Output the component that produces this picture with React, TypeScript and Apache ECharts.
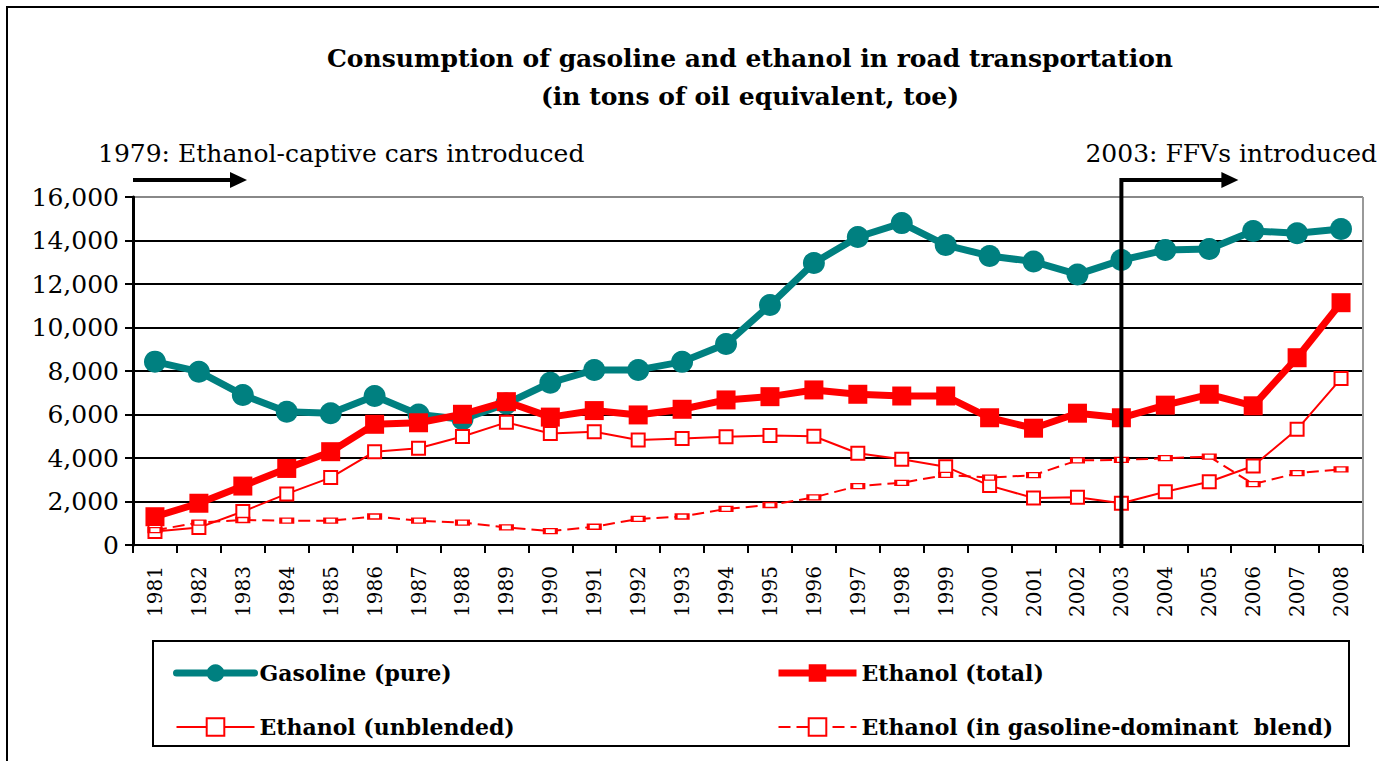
import React, { useEffect, useRef } from "react";
import * as echarts from "echarts";

const years = ["1981","1982","1983","1984","1985","1986","1987","1988","1989","1990","1991","1992","1993","1994","1995","1996","1997","1998","1999","2000","2001","2002","2003","2004","2005","2006","2007","2008"];

const gasolinePure = [8430, 7970, 6900, 6130, 6060, 6850, 6000, 5780, 6500, 7460, 8050, 8050, 8420, 9240, 11030, 12970, 14160, 14800, 13790, 13290, 13030, 12440, 13100, 13560, 13610, 14440, 14330, 14530];
const ethanolTotal = [1300, 1920, 2710, 3520, 4290, 5550, 5620, 6010, 6590, 5880, 6180, 5980, 6240, 6670, 6820, 7130, 6930, 6850, 6850, 5850, 5370, 6060, 5850, 6430, 6930, 6400, 8610, 11140];
const ethanolUnblended = [620, 800, 1540, 2350, 3100, 4290, 4450, 4990, 5640, 5130, 5210, 4830, 4900, 4980, 5030, 5000, 4220, 3940, 3600, 2730, 2160, 2200, 1920, 2450, 2910, 3630, 5320, 7650];
const ethanolBlend = [680, 1030, 1150, 1120, 1120, 1310, 1120, 1030, 810, 640, 840, 1200, 1310, 1660, 1840, 2190, 2710, 2860, 3220, 3100, 3210, 3890, 3910, 3990, 4060, 2800, 3300, 3480];

const yTicks = [0, 2000, 4000, 6000, 8000, 10000, 12000, 14000, 16000];

const titleLines = ["Consumption of gasoline and ethanol in road transportation", "(in tons of oil equivalent, toe)"];
const note1979 = "1979: Ethanol-captive cars introduced";
const note2003 = "2003: FFVs introduced";
const seriesNames = ["Gasoline (pure)", "Ethanol (total)", "Ethanol (unblended)", "Ethanol (in gasoline-dominant  blend)"];

const SERIF = "'DejaVu Serif', 'Liberation Serif', serif";

export default function App() {
  const ref = useRef<HTMLDivElement>(null);
  useEffect(() => {
    document.body.style.margin = "0";
    const chart = echarts.init(ref.current!, null, { renderer: "svg" });
    const legendBase = {
      top: 656,
      orient: "vertical",
      itemWidth: 78,
      itemHeight: 22,
      itemGap: 30,
      selectedMode: false,
      textStyle: { fontFamily: SERIF, fontWeight: "bold", fontSize: 22, color: "#000", lineHeight: 24 },
    };
    const legendItem = (i: number, width: number) => ({ name: seriesNames[i], lineStyle: { width } });
    const option: any = {
      animation: false,
      backgroundColor: "#fff",
      grid: { left: 133, right: 16, top: 197, bottom: 216 },
      legend: [
        { ...legendBase, left: 168, data: [legendItem(0, 7), legendItem(2, 2)] },
        { ...legendBase, left: 770, data: [legendItem(1, 7), legendItem(3, 2)] },
      ],
      xAxis: {
        type: "category",
        data: years,
        boundaryGap: true,
        axisLine: { lineStyle: { color: "#000", width: 2 } },
        axisTick: { show: true, length: 8, lineStyle: { color: "#000", width: 2 } },
        axisLabel: { rotate: 90, fontFamily: SERIF, fontSize: 20, color: "#000", margin: 21, interval: 0 },
      },
      yAxis: {
        type: "value",
        min: yTicks[0],
        max: yTicks[yTicks.length - 1],
        interval: 2000,
        axisLine: { show: true, lineStyle: { color: "#000", width: 3 } },
        axisTick: { show: true, length: 8, lineStyle: { color: "#000", width: 2 } },
        axisLabel: {
          fontFamily: SERIF, fontSize: 25, color: "#000", margin: 14,
          formatter: (v: number) => v.toLocaleString("en-US"),
        },
        splitLine: { show: true, lineStyle: { color: ["#000", "#000", "#000", "#000", "#000", "#000", "#000", "#000", "#888"], width: 2 } },
      },
      series: [
        {
          name: seriesNames[0], type: "line", data: gasolinePure,
          symbol: "circle", symbolSize: 22,
          lineStyle: { color: "#008080", width: 7, cap: "round" },
          itemStyle: { color: "#008080" }, z: 2,
        },
        {
          name: seriesNames[1], type: "line", data: ethanolTotal,
          symbol: "rect", symbolSize: 19,
          lineStyle: { color: "#ff0000", width: 7 },
          itemStyle: { color: "#ff0000" }, z: 3,
        },
        {
          name: seriesNames[2], type: "line", data: ethanolUnblended,
          symbol: "emptyRect", symbolSize: 13,
          lineStyle: { color: "#ff0000", width: 2 },
          itemStyle: { color: "#ff0000", borderWidth: 2 }, z: 4,
        },
        {
          name: seriesNames[3], type: "line", data: ethanolBlend,
          symbol: "emptyRect", symbolSize: [12, 5],
          lineStyle: { color: "#ff0000", width: 2, type: [12, 6] },
          itemStyle: { color: "#ff0000", borderWidth: 2 }, z: 5,
        },
      ],
    };
    chart.setOption(option);

    const p2003 = chart.convertToPixel({ gridIndex: 0 } as any, ["2003", 0]) as number[];
    const pTop = chart.convertToPixel({ gridIndex: 0 } as any, ["2008", 16000]) as number[];
    const gridRight = 1379 - 16;
    const gridLeft = 133;
    const x03 = p2003[0];
    const yBase = p2003[1];
    const arrowY = 180;

    chart.setOption({
      graphic: [
        { type: "rect", shape: { x: 7, y: 7, width: 1500, height: 1000 }, style: { fill: "none", stroke: "#000", lineWidth: 2 }, z: 0, silent: true },
        { type: "text", x: 750, y: 58, style: { text: titleLines[0], font: `bold 25px ${SERIF}`, fill: "#000", textAlign: "center", textVerticalAlign: "middle" } },
        { type: "text", x: 750, y: 96, style: { text: titleLines[1], font: `bold 25px ${SERIF}`, fill: "#000", textAlign: "center", textVerticalAlign: "middle" } },
        { type: "text", x: 98, y: 153, style: { text: note1979, font: `25px ${SERIF}`, fill: "#000", textAlign: "left", textVerticalAlign: "middle" } },
        { type: "text", x: 1377, y: 153, style: { text: note2003, font: `25px ${SERIF}`, fill: "#000", textAlign: "right", textVerticalAlign: "middle" } },
        { type: "line", shape: { x1: gridRight, y1: pTop[1], x2: gridRight, y2: yBase }, style: { stroke: "#999", lineWidth: 2 }, z: 1 },
        { type: "line", shape: { x1: gridLeft, y1: arrowY, x2: 232, y2: arrowY }, style: { stroke: "#000", lineWidth: 4 }, z: 10 },
        { type: "polygon", shape: { points: [[230, arrowY - 8], [247, arrowY], [230, arrowY + 8]] }, style: { fill: "#000" }, z: 10 },
        { type: "polyline", shape: { points: [[x03, yBase + 3], [x03, arrowY], [x03 + 102, arrowY]] }, style: { stroke: "#000", lineWidth: 4, fill: "none" }, z: 10 },
        { type: "polygon", shape: { points: [[x03 + 100, arrowY - 8], [x03 + 117, arrowY], [x03 + 100, arrowY + 8]] }, style: { fill: "#000" }, z: 10 },
        { type: "rect", shape: { x: 153, y: 641, width: 1196, height: 105 }, style: { fill: "none", stroke: "#000", lineWidth: 2 }, z: 1 },
      ],
    });
    return () => chart.dispose();
  }, []);
  return <div ref={ref} style={{ width: 1379, height: 761 }} />;
}
